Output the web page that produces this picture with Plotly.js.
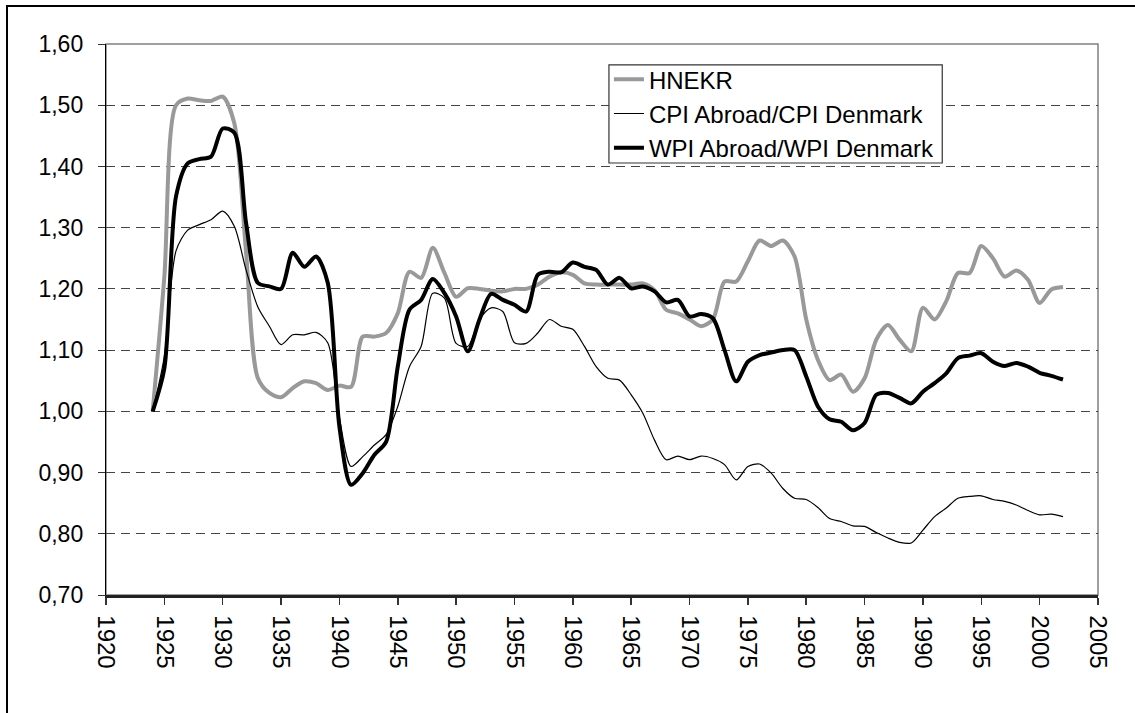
<!DOCTYPE html>
<html>
<head>
<meta charset="utf-8">
<script src="https://cdn.plot.ly/plotly-3.0.1.min.js"></script>
<style>
  html, body { margin: 0; padding: 0; background: #fff; }
  #wrap { position: relative; width: 1135px; height: 713px; overflow: hidden; }
  #chart { width: 1135px; height: 713px; }
  #frame { position: absolute; left: 6px; top: 5px; width: 1200px; height: 800px;
           border-left: 2.5px solid #000; border-top: 2.5px solid #000; pointer-events: none; }
</style>
</head>
<body>
<div id="wrap">
  <div id="chart"></div>
  <div id="frame"></div>
</div>
<script>
const years = [];
for (let y = 1924; y <= 2002; y++) years.push(y);

const seriesNames = ["HNEKR", "CPI Abroad/CPI Denmark", "WPI Abroad/WPI Denmark"];

const hnekr = [
  1.000, 1.220, 1.500, 1.511, 1.508, 1.507, 1.514, 1.470, 1.260, 1.055,
  1.030, 1.023, 1.038, 1.049, 1.046, 1.035, 1.042, 1.040, 1.122, 1.122,
  1.128, 1.160, 1.228, 1.218, 1.267, 1.226, 1.187, 1.201, 1.200, 1.197,
  1.196, 1.200, 1.200, 1.207, 1.220, 1.227, 1.223, 1.209, 1.207, 1.207,
  1.207, 1.207, 1.209, 1.198, 1.166, 1.160, 1.150, 1.139, 1.150, 1.212,
  1.212, 1.245, 1.279, 1.270, 1.279, 1.253, 1.150, 1.084, 1.051, 1.060,
  1.032, 1.054, 1.117, 1.141, 1.117, 1.098, 1.169, 1.150, 1.180, 1.226,
  1.226, 1.270, 1.250, 1.220, 1.230, 1.215, 1.177, 1.199, 1.203
];

const cpiRatio = [
  1.000, 1.090, 1.262, 1.296, 1.305, 1.313, 1.327, 1.302, 1.231, 1.171,
  1.139, 1.109, 1.125, 1.125, 1.129, 1.112, 0.990, 0.910, 0.926, 0.945,
  0.962, 1.008, 1.073, 1.106, 1.193, 1.185, 1.111, 1.106, 1.150, 1.169,
  1.163, 1.112, 1.111, 1.128, 1.150, 1.139, 1.134, 1.106, 1.073, 1.054,
  1.051, 1.027, 0.997, 0.953, 0.921, 0.927, 0.921, 0.927, 0.923, 0.913,
  0.888, 0.910, 0.914, 0.899, 0.874, 0.858, 0.856, 0.843, 0.825, 0.820,
  0.813, 0.812, 0.802, 0.793, 0.786, 0.785, 0.806, 0.828, 0.842, 0.858,
  0.861, 0.862, 0.856, 0.853, 0.847, 0.838, 0.831, 0.832, 0.828
];

const wpiRatio = [
  1.000, 1.070, 1.351, 1.405, 1.412, 1.416, 1.462, 1.455, 1.308, 1.210,
  1.204, 1.200, 1.259, 1.236, 1.253, 1.210, 0.975, 0.880, 0.899, 0.929,
  0.950, 1.073, 1.166, 1.182, 1.216, 1.193, 1.155, 1.098, 1.150, 1.192,
  1.182, 1.174, 1.163, 1.223, 1.228, 1.227, 1.243, 1.236, 1.231, 1.207,
  1.218, 1.201, 1.204, 1.196, 1.178, 1.182, 1.155, 1.159, 1.152, 1.100,
  1.049, 1.081, 1.092, 1.096, 1.100, 1.100, 1.057, 1.008, 0.987, 0.983,
  0.969, 0.981, 1.027, 1.030, 1.022, 1.013, 1.032, 1.046, 1.062, 1.087,
  1.091, 1.095, 1.081, 1.074, 1.079, 1.073, 1.063, 1.058, 1.052
];

const FONT = "Liberation Sans, Arial, Helvetica, sans-serif";

const traces = [
  { x: years, y: hnekr, name: seriesNames[0], type: "scatter", mode: "lines",
    line: { color: "#999999", width: 4, shape: "spline", smoothing: 0.8 } },
  { x: years, y: cpiRatio, name: seriesNames[1], type: "scatter", mode: "lines",
    line: { color: "#000000", width: 1.2, shape: "spline", smoothing: 0.8 } },
  { x: years, y: wpiRatio, name: seriesNames[2], type: "scatter", mode: "lines",
    line: { color: "#000000", width: 4, shape: "spline", smoothing: 0.8 } }
];

const layout = {
  width: 1135, height: 713,
  margin: { l: 106, r: 37, t: 44, b: 118, pad: 0 },
  paper_bgcolor: "#ffffff", plot_bgcolor: "#ffffff",
  separators: ", ",
  font: { family: FONT, size: 24, color: "#000" },
  showlegend: true,
  legend: {
    x: 0.507, y: 0.976, xanchor: "left", yanchor: "top",
    bgcolor: "rgba(0,0,0,0)", borderwidth: 0,
    font: { family: FONT, size: 24, color: "#000" },
    tracegroupgap: 0
  },
  xaxis: {
    range: [1920, 2005], dtick: 5, tick0: 1920, tickmode: "linear",
    tickangle: 90, ticks: "outside", ticklen: 7, tickcolor: "#333", tickwidth: 1.5,
    showgrid: false, zeroline: false,
    showline: true, linecolor: "#222", linewidth: 2.5,
    tickfont: { family: FONT, size: 24, color: "#000" },
    ticklabelstandoff: 6, fixedrange: true
  },
  yaxis: {
    range: [0.70, 1.60], dtick: 0.1, tick0: 0.7, tickmode: "linear",
    tickformat: ".2f", ticks: "outside", ticklen: 7, tickcolor: "#333", tickwidth: 1,
    showgrid: true, gridcolor: "#444444", gridwidth: 1, griddash: "9px,6px",
    zeroline: false, showline: true, linecolor: "#000", linewidth: 1.2,
    tickfont: { family: FONT, size: 23, color: "#000" },
    ticklabelstandoff: 10, fixedrange: true
  },
  shapes: [
    { type: "rect", xref: "paper", yref: "paper", x0: 0, x1: 1, y0: 0, y1: 1,
      line: { color: "#808080", width: 1.5 }, layer: "below" },
    { type: "rect", xref: "paper", yref: "paper", x0: 0.507, x1: 0.843, y0: 0.784, y1: 0.962,
      fillcolor: "#ffffff", line: { color: "#333333", width: 1.2 }, layer: "above" }
  ]
};

Plotly.newPlot("chart", traces, layout, { staticPlot: true, displayModeBar: false });
</script>
</body>
</html>
